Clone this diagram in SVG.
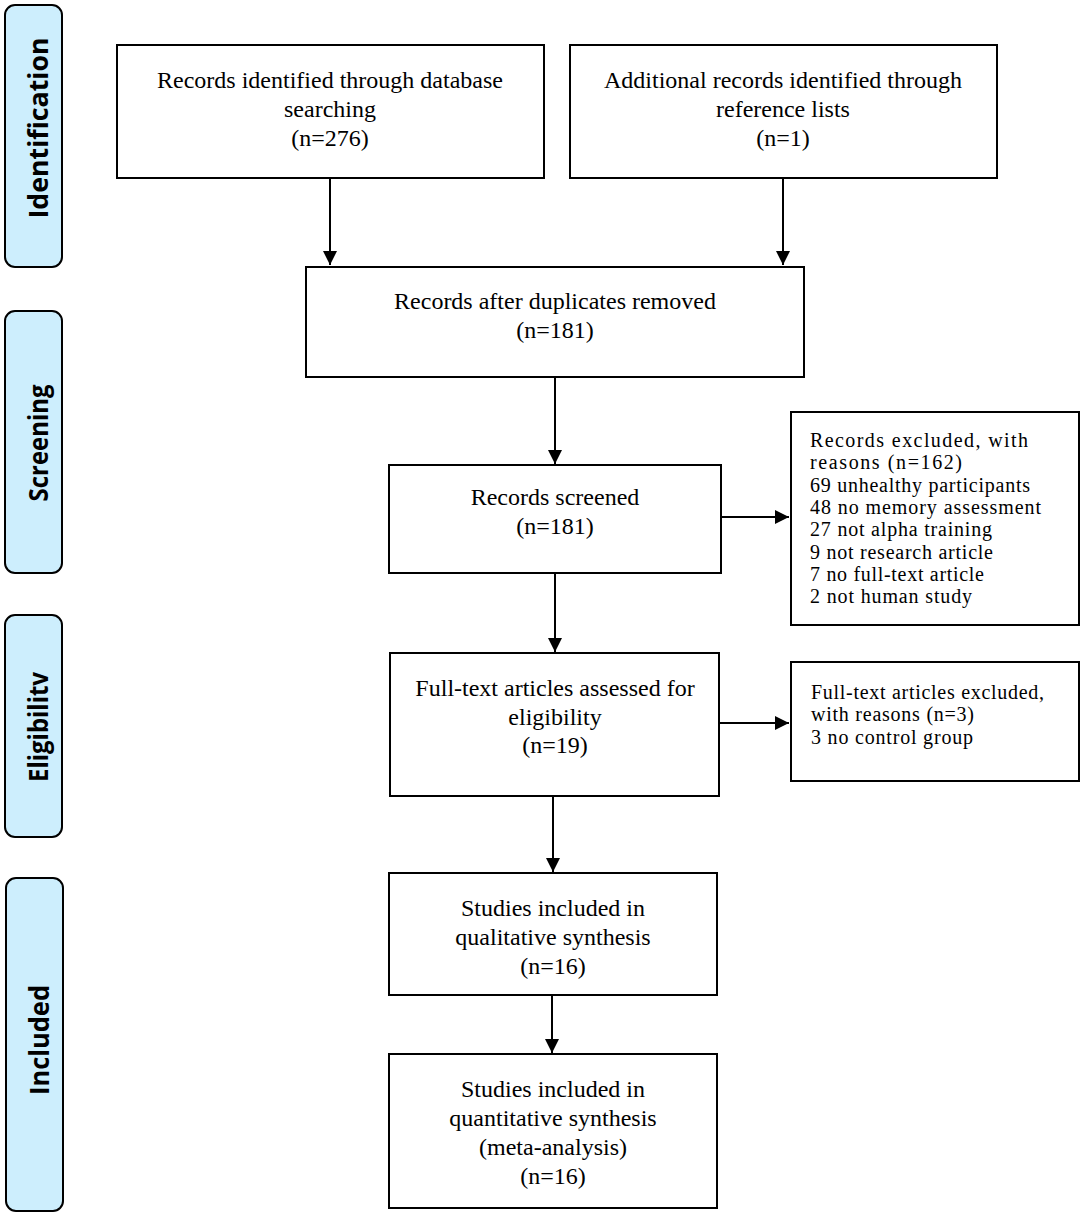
<svg xmlns="http://www.w3.org/2000/svg" width="1084" height="1215" viewBox="0 0 1084 1215">
<style>
.box{fill:#fff;stroke:#000;stroke-width:2}
.phase{fill:#cdeefd;stroke:#000;stroke-width:2}
.t{font-family:"Liberation Serif","Times New Roman",serif;font-size:24px;fill:#000;text-anchor:middle}
.s{font-family:"Liberation Serif","Times New Roman",serif;font-size:20px;fill:#000}
.p{font-family:"Open Sans","Liberation Sans",sans-serif;font-size:26px;font-weight:bold;fill:#000;text-anchor:middle}
.c{stroke:#000;stroke-width:2;fill:none}
</style>
<defs>
<marker id="ah" viewBox="0 0 10 10" refX="10" refY="5" markerWidth="7" markerHeight="7" markerUnits="strokeWidth" orient="auto">
<path d="M0,0 L10,5 L0,10 Z" fill="#000"/>
</marker>
</defs>
<g id="phase-identification">
<rect class="phase" x="5" y="5" width="57" height="262" rx="10"/>
<text class="p" transform="translate(48,128) rotate(-90)" textLength="181" lengthAdjust="spacingAndGlyphs">Identification</text>
</g>
<g id="phase-screening">
<rect class="phase" x="5" y="311" width="57" height="262" rx="10"/>
<text class="p" transform="translate(48,443) rotate(-90)" textLength="117" lengthAdjust="spacingAndGlyphs">Screening</text>
</g>
<g id="phase-eligibility">
<rect class="phase" x="5" y="615" width="57" height="222" rx="10"/>
<text class="p" transform="translate(48,727) rotate(-90)" textLength="110" lengthAdjust="spacingAndGlyphs">Eligibilitv</text>
</g>
<g id="phase-included">
<rect class="phase" x="6" y="878" width="57" height="333" rx="10"/>
<text class="p" transform="translate(49,1040) rotate(-90)" textLength="110" lengthAdjust="spacingAndGlyphs">Included</text>
</g>
<g id="n-database">
<rect class="box" x="117" y="45" width="427" height="133"/>
<text class="t" x="330" y="88">Records identified through database</text>
<text class="t" x="330" y="117">searching</text>
<text class="t" x="330" y="146">(n=276)</text>
</g>
<g id="n-reference">
<rect class="box" x="570" y="45" width="427" height="133"/>
<text class="t" x="783" y="88">Additional records identified through</text>
<text class="t" x="783" y="117">reference lists</text>
<text class="t" x="783" y="146">(n=1)</text>
</g>
<g id="n-duplicates">
<rect class="box" x="306" y="267" width="498" height="110"/>
<text class="t" x="555" y="309">Records after duplicates removed</text>
<text class="t" x="555" y="338">(n=181)</text>
</g>
<g id="n-screened">
<rect class="box" x="389" y="465" width="332" height="108"/>
<text class="t" x="555" y="505">Records screened</text>
<text class="t" x="555" y="534">(n=181)</text>
</g>
<g id="n-excluded1">
<rect class="box" x="791" y="412" width="288" height="213"/>
<text class="s" x="810" y="447" textLength="218" lengthAdjust="spacing">Records excluded, with</text>
<text class="s" x="810" y="469.3" textLength="152" lengthAdjust="spacing">reasons (n=162)</text>
<text class="s" x="810" y="491.6" textLength="220" lengthAdjust="spacing">69 unhealthy participants</text>
<text class="s" x="810" y="513.9" textLength="231" lengthAdjust="spacing">48 no memory assessment</text>
<text class="s" x="810" y="536.2" textLength="182" lengthAdjust="spacing">27 not alpha training</text>
<text class="s" x="810" y="558.5" textLength="183" lengthAdjust="spacing">9 not research article</text>
<text class="s" x="810" y="580.8" textLength="174" lengthAdjust="spacing">7 no full-text article</text>
<text class="s" x="810" y="603.1" textLength="162" lengthAdjust="spacing">2 not human study</text>
</g>
<g id="n-fulltext">
<rect class="box" x="390" y="653" width="329" height="143"/>
<text class="t" x="555" y="696">Full-text articles assessed for</text>
<text class="t" x="555" y="725">eligibility</text>
<text class="t" x="555" y="753">(n=19)</text>
</g>
<g id="n-excluded2">
<rect class="box" x="791" y="662" width="288" height="119"/>
<text class="s" x="811" y="699" textLength="233" lengthAdjust="spacing">Full-text articles excluded,</text>
<text class="s" x="811" y="721.3" textLength="163" lengthAdjust="spacing">with reasons (n=3)</text>
<text class="s" x="811" y="743.6" textLength="162" lengthAdjust="spacing">3 no control group</text>
</g>
<g id="n-qualitative">
<rect class="box" x="389" y="873" width="328" height="122"/>
<text class="t" x="553" y="916">Studies included in</text>
<text class="t" x="553" y="945">qualitative synthesis</text>
<text class="t" x="553" y="974">(n=16)</text>
</g>
<g id="n-quantitative">
<rect class="box" x="389" y="1054" width="328" height="154"/>
<text class="t" x="553" y="1097">Studies included in</text>
<text class="t" x="553" y="1126">quantitative synthesis</text>
<text class="t" x="553" y="1155">(meta-analysis)</text>
<text class="t" x="553" y="1184">(n=16)</text>
</g>
<g id="connectors">
<line class="c" x1="330" y1="178" x2="330" y2="265" marker-end="url(#ah)"/>
<line class="c" x1="783" y1="178" x2="783" y2="265" marker-end="url(#ah)"/>
<line class="c" x1="555" y1="377" x2="555" y2="464" marker-end="url(#ah)"/>
<line class="c" x1="555" y1="573" x2="555" y2="652" marker-end="url(#ah)"/>
<line class="c" x1="721" y1="517" x2="789" y2="517" marker-end="url(#ah)"/>
<line class="c" x1="719" y1="723" x2="789" y2="723" marker-end="url(#ah)"/>
<line class="c" x1="553" y1="796" x2="553" y2="872" marker-end="url(#ah)"/>
<line class="c" x1="552" y1="995" x2="552" y2="1053" marker-end="url(#ah)"/>
</g>
</svg>
